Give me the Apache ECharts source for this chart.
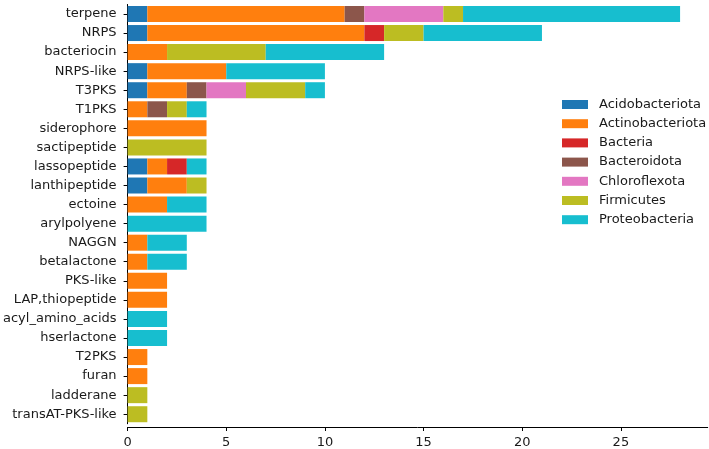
<!DOCTYPE html>
<html>
<head>
<meta charset="utf-8">
<script src="https://cdn.jsdelivr.net/npm/echarts@6/dist/echarts.min.js"></script>
<style>html,body{margin:0;padding:0;background:#fff;}#c{width:709px;height:449px;}</style>
</head>
<body>
<div id="c"></div>
<script>
const categories = ["terpene","NRPS","bacteriocin","NRPS-like","T3PKS","T1PKS","siderophore","sactipeptide","lassopeptide","lanthipeptide","ectoine","arylpolyene","NAGGN","betalactone","PKS-like","LAP,thiopeptide","acyl_amino_acids","hserlactone","T2PKS","furan","ladderane","transAT-PKS-like"];
const seriesNames = ["Acidobacteriota","Actinobacteriota","Bacteria","Bacteroidota","Chloroflexota","Firmicutes","Proteobacteria"];
const acidobacteriota  = [1,1,0,1,1,0,0,0,1,1,0,0,0,0,0,0,0,0,0,0,0,0];
const actinobacteriota = [10,11,2,4,2,1,4,0,1,2,2,0,1,1,2,2,0,0,1,1,0,0];
const bacteria         = [0,1,0,0,0,0,0,0,1,0,0,0,0,0,0,0,0,0,0,0,0,0];
const bacteroidota     = [1,0,0,0,1,1,0,0,0,0,0,0,0,0,0,0,0,0,0,0,0,0];
const chloroflexota    = [4,0,0,0,2,0,0,0,0,0,0,0,0,0,0,0,0,0,0,0,0,0];
const firmicutes       = [1,2,5,0,3,1,0,4,0,1,0,0,0,0,0,0,0,0,0,0,1,1];
const proteobacteria   = [11,6,6,5,1,1,0,0,1,0,2,4,2,2,0,0,2,2,0,0,0,0];
const xTicks = [0,5,10,15,20,25];

const values = [acidobacteriota,actinobacteriota,bacteria,bacteroidota,chloroflexota,firmicutes,proteobacteria];
const colors = ["#1f77b4","#ff7f0e","#d62728","#8c564b","#e377c2","#bcbd22","#17becf"];
const font = "DejaVu Sans";
const txt = "#1a1a1a";

const chart = echarts.init(document.getElementById('c'), null, {renderer:'canvas'});
chart.setOption({
  animation:false,
  color: colors,
  textStyle:{fontFamily:font},
  grid:{left:123, right:1.3, top:4.45, bottom:24.25, containLabel:false},
  legend:{
    orient:'vertical', left:557, top:93, itemWidth:26, itemHeight:9, itemGap:6.2,
    icon:'rect',
    data: seriesNames,
    textStyle:{fontFamily:font, fontSize:13, color:txt, padding:[0,0,0,6]}
  },
  xAxis:{
    type:'value', min:0, max:29.4, interval:5, offset:3.25,
    axisLine:{show:true, lineStyle:{color:'#000', width:1}},
    axisTick:{show:true, length:4, lineStyle:{color:'#000'}, customValues: xTicks},
    axisLabel:{fontFamily:font, fontSize:13, color:txt, margin:9, customValues: xTicks},
    splitLine:{show:false}
  },
  yAxis:{
    type:'category', data:categories, inverse:true,
    axisLine:{show:true, lineStyle:{color:'#000', width:1}},
    axisTick:{show:true, length:4, alignWithLabel:true, lineStyle:{color:'#000'}},
    axisLabel:{fontFamily:font, fontSize:13, color:txt, margin:11}
  },
  series: seriesNames.map((n,i)=>({
    name:n, type:'bar', stack:'total', barWidth:16,
    data: values[i],
    itemStyle:{color:colors[i]}
  }))
});
</script>
</body>
</html>
